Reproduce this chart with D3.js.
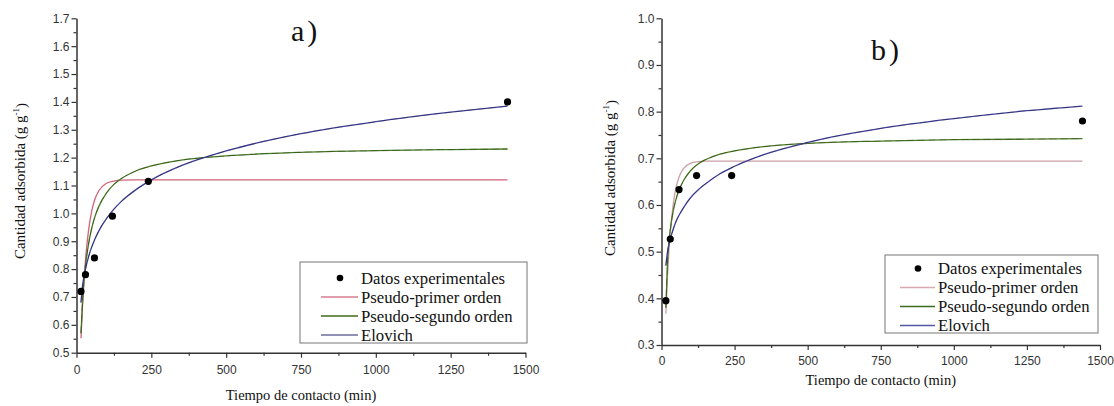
<!DOCTYPE html>
<html>
<head>
<meta charset="utf-8">
<script src="https://cdn.jsdelivr.net/npm/d3@7"></script>
<style>
  body { margin: 0; background: #fff; }
</style>
</head>
<body>
<div id="chart-area"></div>
<script>

var width = 1114,
    height = 406;

var SERIF = "'Liberation Serif', 'DejaVu Serif', serif";
var SANS = "'Liberation Sans', Arial, sans-serif";

// experimental points (min, g/g)
var expTime = [15, 30, 60, 120, 240, 1440];
var expA = [0.72, 0.78, 0.84, 0.99, 1.115, 1.40];
var expB = [0.395, 0.527, 0.633, 0.663, 0.663, 0.78];

// fitted curves
var fitTime = [15, 20, 25, 30, 40, 50, 60, 75, 100, 125, 150, 200, 250, 350, 500, 750, 1000, 1250, 1440];
var pfoA = [0.552, 0.667, 0.759, 0.832, 0.937, 1.004, 1.046, 1.082, 1.108, 1.116, 1.119, 1.12, 1.12, 1.12, 1.12, 1.12, 1.12, 1.12, 1.12];
var psoA = [0.57, 0.68, 0.759, 0.812, 0.889, 0.943, 0.983, 1.026, 1.073, 1.104, 1.125, 1.153, 1.17, 1.191, 1.206, 1.219, 1.225, 1.229, 1.231];
var eloA = [0.68, 0.739, 0.772, 0.80, 0.843, 0.877, 0.904, 0.938, 0.981, 1.015, 1.043, 1.086, 1.12, 1.171, 1.224, 1.286, 1.329, 1.363, 1.385];

var pfoB = [0.367, 0.44, 0.497, 0.541, 0.601, 0.638, 0.66, 0.678, 0.6895, 0.693, 0.694, 0.694, 0.694, 0.694, 0.694, 0.694, 0.694, 0.694, 0.694];
var psoB = [0.38, 0.47, 0.52, 0.547, 0.587, 0.613, 0.632, 0.652, 0.674, 0.688, 0.697, 0.709, 0.716, 0.725, 0.732, 0.737, 0.74, 0.741, 0.742];
var eloB = [0.47, 0.497, 0.514, 0.527, 0.548, 0.565, 0.578, 0.594, 0.616, 0.632, 0.645, 0.667, 0.683, 0.708, 0.734, 0.764, 0.785, 0.802, 0.812];

var xTicks = [0, 250, 500, 750, 1000, 1250, 1500];
var legendLabels = ["Datos experimentales", "Pseudo-primer orden", "Pseudo-segundo orden", "Elovich"];

var svg = d3.select("#chart-area").append("svg")
    .attr("width", width)
    .attr("height", height);

var panels = [
  { tag: "a)", exp: expA, fits: [pfoA, psoA, eloA],
    x0: 76.5, x1: 525.5, y0: 352.7, y1: 18.3, ydom: [0.5, 1.7],
    labPad: 7.5, titleY: 400, yTitleX: 20, yTitleY: 181,
    tagX: 291, tagY: 41,
    colors: ["#d0637a", "#457a1e", "#3b3b96"],
    legColors: ["#d67d8e", "#3f6b1c", "#6d6d9e"],
    leg: { x: 300, y: 262, w: 227, h: 81, lineX: 321, textX: 361, row0: 278, step: 19 } },
  { tag: "b)", exp: expB, fits: [pfoB, psoB, eloB],
    x0: 661.5, x1: 1100, y0: 345, y1: 18.3, ydom: [0.3, 1.0],
    labPad: 6.5, titleY: 385, yTitleX: 610, yTitleY: 178,
    tagX: 871, tagY: 60,
    colors: ["#caa0a8", "#4a7a20", "#3d3d9a"],
    legColors: ["#d9a8b0", "#3f6b1c", "#5656a2"],
    leg: { x: 885, y: 255, w: 213, h: 78, lineX: 900, textX: 938, row0: 268.5, step: 19 } }
];

panels.forEach(function(p) {
  var x = d3.scaleLinear().domain([0, 1500]).range([p.x0, p.x1]);
  var y = d3.scaleLinear().domain(p.ydom).range([p.y0, p.y1]);
  var g = svg.append("g");

  var yMajor = d3.range(Math.round(p.ydom[0] * 10), Math.round(p.ydom[1] * 10) + 1).map(function(d) { return d / 10; });
  var yMinor = d3.range(Math.round(p.ydom[0] * 20), Math.round(p.ydom[1] * 20)).map(function(d) { return d / 20; })
    .filter(function(d) { return Math.round(d * 20) % 2 == 1; });
  var xMinor = d3.range(125, 1500, 250);

  // minor ticks first
  g.append("g").attr("transform", "translate(0," + p.y0 + ")")
    .call(d3.axisBottom(x).tickValues(xMinor).tickSize(3).tickSizeOuter(0).tickFormat(""))
    .call(function(s) { s.select(".domain").remove(); });
  g.append("g").attr("transform", "translate(" + p.x0 + ",0)")
    .call(d3.axisLeft(y).tickValues(yMinor).tickSize(3).tickSizeOuter(0).tickFormat(""))
    .call(function(s) { s.select(".domain").remove(); });

  var xa = g.append("g").attr("transform", "translate(0," + p.y0 + ")")
    .call(d3.axisBottom(x).tickValues(xTicks).tickSize(5).tickSizeOuter(0).tickPadding(p.labPad).tickFormat(d3.format("d")));
  var ya = g.append("g").attr("transform", "translate(" + p.x0 + ",0)")
    .call(d3.axisLeft(y).tickValues(yMajor).tickSize(5).tickSizeOuter(0).tickPadding(2).tickFormat(d3.format(".1f")));
  g.selectAll(".domain").attr("stroke", "#333").attr("stroke-width", 1.5);
  g.selectAll(".tick line").attr("stroke", "#333").attr("stroke-width", 1.2);
  [xa, ya].forEach(function(a) {
    a.attr("font-family", SANS).attr("font-size", 12);
    a.selectAll("text").attr("fill", "#333");
  });

  // fitted curves
  var line = d3.line()
    .x(function(d) { return x(d[0]); })
    .y(function(d) { return y(d[1]); })
    .curve(d3.curveMonotoneX);
  p.fits.forEach(function(vals, i) {
    var pts = fitTime.map(function(t, j) { return [t, vals[j]]; });
    g.append("path")
      .datum(pts)
      .attr("fill", "none")
      .attr("stroke", p.colors[i])
      .attr("stroke-width", 1.3)
      .attr("d", line);
    // the green and blue fits carry a faint dark dash on top in the original
    if (i > 0) {
      g.append("path")
        .datum(pts)
        .attr("fill", "none")
        .attr("stroke", "#222")
        .attr("stroke-opacity", 0.45)
        .attr("stroke-width", 0.7)
        .attr("stroke-dasharray", "7,4")
        .attr("d", line);
    }
  });

  // experimental points
  g.selectAll("circle.pt")
    .data(expTime.map(function(t, j) { return [t, p.exp[j]]; }))
    .enter()
    .append("circle")
    .attr("class", "pt")
    .attr("cx", function(d) { return x(d[0]); })
    .attr("cy", function(d) { return y(d[1]); })
    .attr("r", 3.6)
    .style("fill", "#000");

  // titles
  g.append("text")
    .attr("font-family", SERIF).attr("fill", "#111")
    .attr("x", (p.x0 + p.x1) / 2).attr("y", p.titleY)
    .attr("text-anchor", "middle").attr("font-size", 14.5)
    .text("Tiempo de contacto (min)");

  var yt = g.append("text")
    .attr("font-family", SERIF).attr("fill", "#111")
    .attr("transform", "translate(" + p.yTitleX + "," + p.yTitleY + ") rotate(-90)")
    .attr("text-anchor", "middle").attr("font-size", 15)
    .attr("dy", "0.35em");
  yt.append("tspan").text("Cantidad adsorbida (g g");
  yt.append("tspan").attr("font-size", 9).attr("dy", "-0.7em").text("-1");
  yt.append("tspan").attr("dy", "0.45em").text(")");

  g.append("text")
    .attr("font-family", SERIF).attr("fill", "#111")
    .attr("x", p.tagX).attr("y", p.tagY)
    .attr("font-size", 30).attr("letter-spacing", 3)
    .text(p.tag);

  // legend
  var L = p.leg;
  g.append("rect")
    .attr("x", L.x).attr("y", L.y).attr("width", L.w).attr("height", L.h)
    .attr("fill", "#fff").attr("stroke", "#777").attr("stroke-width", 1);
  legendLabels.forEach(function(lab, i) {
    var ry = L.row0 + i * L.step;
    if (i == 0) {
      g.append("circle").attr("cx", (L.lineX + L.textX) / 2 - 1).attr("cy", ry).attr("r", 3.3).style("fill", "#000");
    } else {
      g.append("line")
        .attr("x1", L.lineX).attr("x2", L.textX - 3)
        .attr("y1", ry).attr("y2", ry)
        .attr("stroke", p.legColors[i - 1]).attr("stroke-width", 1.3);
    }
    g.append("text")
      .attr("font-family", SERIF).attr("fill", "#111")
      .attr("x", L.textX).attr("y", ry).attr("dy", "0.33em")
      .attr("font-size", 16.7)
      .text(lab);
  });
});

</script>
</body>
</html>
